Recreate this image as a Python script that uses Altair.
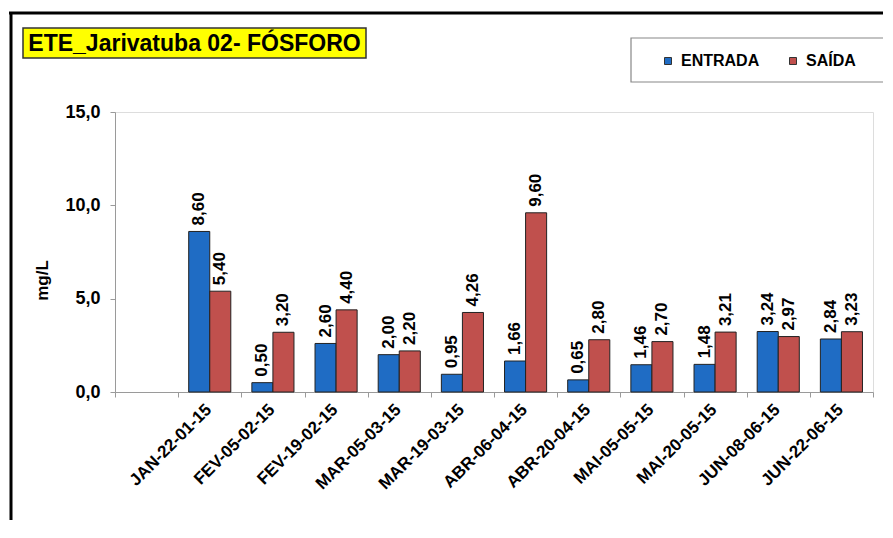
import altair as alt
import pandas as pd

# ---- data ----
datas = ["JAN-22-01-15", "FEV-05-02-15", "FEV-19-02-15", "MAR-05-03-15", "MAR-19-03-15",
         "ABR-06-04-15", "ABR-20-04-15", "MAI-05-05-15", "MAI-20-05-15", "JUN-08-06-15",
         "JUN-22-06-15"]
entrada = [8.60, 0.50, 2.60, 2.00, 0.95, 1.66, 0.65, 1.46, 1.48, 3.24, 2.84]
saida = [5.40, 3.20, 4.40, 2.20, 4.26, 9.60, 2.80, 2.70, 3.21, 2.97, 3.23]
series = ["ENTRADA", "SAÍDA"]
cores = ["#1f6cc4", "#c0504d"]
y_ticks = [0, 5, 10, 15]
titulo = "ETE_Jarivatuba 02- FÓSFORO"
unidade = "mg/L"

rows = []
for d, e, s in zip(datas, entrada, saida):
    rows.append({"data": d, "serie": series[0], "valor": e})
    rows.append({"data": d, "serie": series[1], "valor": s})
df = pd.DataFrame(rows)

dominio_x = [" "] + datas
FONT = "Liberation Sans"

x_enc = alt.X(
    "data:N",
    sort=dominio_x,
    scale=alt.Scale(domain=dominio_x, paddingInner=0, paddingOuter=0),
    axis=alt.Axis(
        title=None, labelAngle=-45, labelFont=FONT, labelFontSize=17,
        labelFontWeight="bold", labelColor="#000", domainColor="#9a9a9a",
        tickColor="#9a9a9a", tickSize=5, tickBand="extent", labelPadding=4,
        labelOffset=-7,
    ),
)
xoff_enc = alt.XOffset(
    "serie:N", sort=series,
    scale=alt.Scale(domain=series, paddingInner=0, paddingOuter=0.5),
)
y_enc = alt.Y(
    "valor:Q",
    scale=alt.Scale(domain=[0, 15], nice=False),
    axis=alt.Axis(
        title=unidade, values=y_ticks, grid=False,
        labelExpr="replace(format(datum.value, '.1f'), '.', ',')",
        labelFont=FONT, labelFontSize=18, labelFontWeight="bold", labelColor="#000",
        domainColor="#9a9a9a", tickColor="#9a9a9a", tickSize=5, labelPadding=10,
        titleFont=FONT, titleFontSize=17, titleFontWeight="bold", titleColor="#000",
        titleAngle=270, titleX=-73, titleY=168, titleAlign="center", titleBaseline="middle",
    ),
)

base = alt.Chart(df)

barras = base.mark_bar(stroke="#222", strokeWidth=1).encode(
    x=x_enc, xOffset=xoff_enc, y=y_enc,
    color=alt.Color(
        "serie:N", sort=series,
        scale=alt.Scale(domain=series, range=cores),
        legend=alt.Legend(
            title=None, orient="none", legendX=545, legendY=-59, direction="horizontal",
            symbolType="square", symbolSize=49, symbolStrokeColor="#333",
            symbolStrokeWidth=1, labelFont=FONT, labelFontSize=16,
            labelFontWeight="bold", labelColor="#000", labelOffset=5, columnPadding=25,
        ),
    ),
)

rotulos = base.transform_calculate(
    rot="replace(format(datum.valor, '.2f'), '.', ',')"
).mark_text(
    angle=270, align="left", baseline="middle", dx=6,
    font=FONT, fontSize=17, fontWeight="bold", color="#000",
).encode(x=x_enc, xOffset=xoff_enc, y=y_enc, text="rot:N")

one = alt.Data(values=[{"t": titulo}])

moldura_topo = alt.Chart(one).mark_rule(color="#000", strokeWidth=3).encode(
    x=alt.value(-106), x2=alt.value(800), y=alt.value(-99)
)
moldura_esq = alt.Chart(one).mark_rule(color="#000", strokeWidth=3).encode(
    x=alt.value(-104), y=alt.value(-100), y2=alt.value(430)
)
caixa_titulo = alt.Chart(one).mark_rect(fill="#ffff00", stroke="#333", strokeWidth=1.5).encode(
    x=alt.value(-92), x2=alt.value(251), y=alt.value(-84), y2=alt.value(-54)
)
texto_titulo = alt.Chart(one).mark_text(
    font=FONT, fontSize=23, fontWeight="bold", color="#000", align="center", baseline="middle"
).encode(x=alt.value(79.5), y=alt.value(-68), text="t:N")
caixa_legenda = alt.Chart(one).mark_rect(fill="#fff", stroke="#888", strokeWidth=1.2).encode(
    x=alt.value(516), x2=alt.value(769), y=alt.value(-74), y2=alt.value(-30)
)

chart = alt.layer(
    moldura_topo, moldura_esq, caixa_titulo, texto_titulo, caixa_legenda, barras, rotulos
).properties(
    width=758, height=280,
    padding={"left": 107, "top": 104, "right": 10, "bottom": 128},
    autosize=alt.AutoSizeParams(type="none"),
).configure_view(stroke=None).configure(background="#ffffff")

chart.save("out.html", embed_options={"renderer": "svg", "actions": False})
